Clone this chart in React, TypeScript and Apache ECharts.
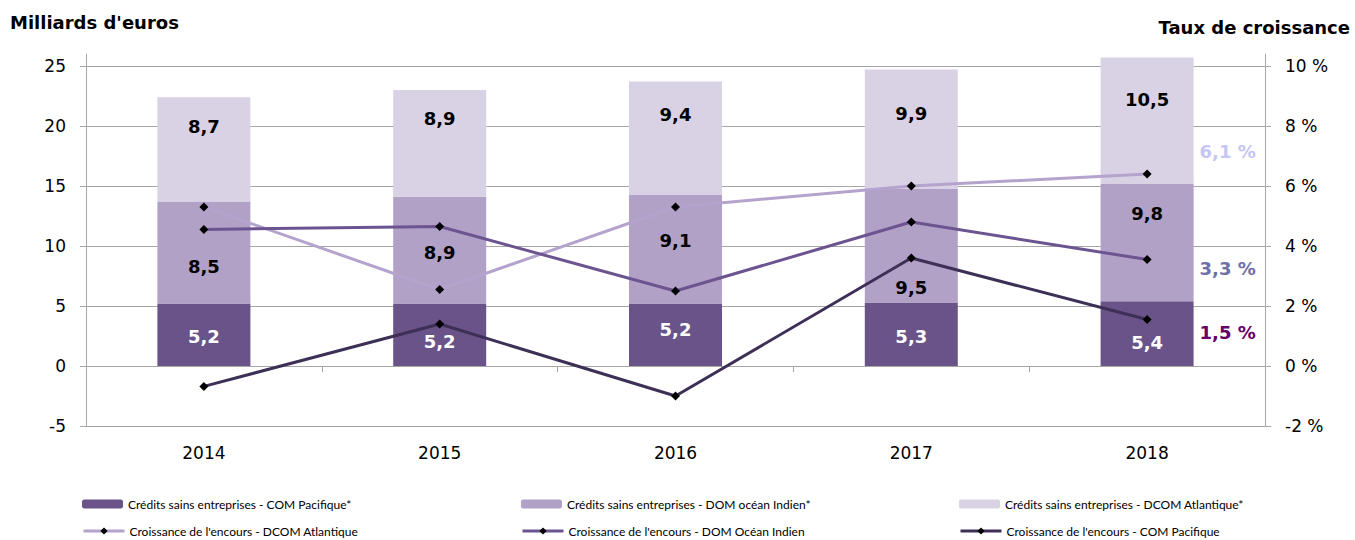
import React, { useEffect, useRef } from "react";
import * as echarts from "echarts";

const years = ["2014", "2015", "2016", "2017", "2018"];

const barPacifique = [5.2, 5.2, 5.2, 5.3, 5.4];
const barIndien = [8.5, 8.9, 9.1, 9.5, 9.8];
const barAtlantique = [8.7, 8.9, 9.4, 9.9, 10.5];

const growthAtlantique = [5.3, 2.55, 5.3, 6.0, 6.4];
const growthIndien = [4.55, 4.65, 2.5, 4.8, 3.55];
const growthPacifique = [-0.68, 1.4, -1.0, 3.6, 1.55];

const endLabels = ["6,1 %", "3,3 %", "1,5 %"];

const names = [
  "Crédits sains entreprises - COM Pacifique*",
  "Crédits sains entreprises - DOM océan Indien*",
  "Crédits sains entreprises - DCOM Atlantique*",
  "Croissance de l'encours - DCOM Atlantique",
  "Croissance de l'encours - DOM Océan Indien",
  "Croissance de l'encours - COM Pacifique",
];

// label vertical nudges (px) per bar segment
const dyPacifique = [2, 7, -5, 2, 9];
const dyIndien = [14, 2, -9, 42, -29];
const dyAtlantique = [-23, -25, -24, -16, -21];

const FONT = "'DejaVu Sans', sans-serif";
const LEGEND_FONT = "Lato, 'Liberation Sans', sans-serif";

const fmt = (v: number) => String(v).replace(".", ",");

export default function App() {
  const ref = useRef<HTMLDivElement>(null);
  useEffect(() => {
    if (!ref.current) return;
    const chart = echarts.init(ref.current, undefined, { renderer: "svg" });

    const barSeries = (
      name: string,
      values: number[],
      color: string,
      labelColor: string,
      dys: number[]
    ) => ({
      type: "bar",
      name,
      stack: "credits",
      barWidth: 93,
      itemStyle: { color },
      data: values.map((v, i) => ({
        value: v,
        label: {
          show: true,
          position: "inside",
          offset: [0, dys[i]],
          formatter: fmt(v),
          color: labelColor,
          fontFamily: FONT,
          fontWeight: "bold",
          fontSize: 18,
        },
      })),
    });

    const lineSeries = (
      name: string,
      values: number[],
      color: string,
      endLabel: string,
      endColor: string,
      endDy: number
    ) => ({
      type: "line",
      name,
      yAxisIndex: 1,
      symbol: "diamond",
      symbolSize: 9,
      lineStyle: { color, width: 3 },
      itemStyle: { color: "#000" },
      z: 5,
      data: values.map((v, i) =>
        i === values.length - 1
          ? {
              value: v,
              label: {
                show: true,
                position: "right",
                offset: [43, endDy],
                formatter: endLabel,
                color: endColor,
                fontFamily: FONT,
                fontWeight: "bold",
                fontSize: 18,
              },
            }
          : v
      ),
    });

    const legendPos = [
      [82, 498],
      [521, 498],
      [959, 498],
      [82, 525],
      [521, 525],
      [959, 525],
    ];

    const option: any = {
      animation: false,
      title: [
        {
          text: "Milliards d'euros",
          left: 10,
          top: 13,
          padding: 0,
          textStyle: { fontFamily: FONT, fontWeight: "bold", fontSize: 18, color: "#000" },
        },
        {
          text: "Taux de croissance",
          right: 5,
          top: 18,
          padding: 0,
          textStyle: { fontFamily: FONT, fontWeight: "bold", fontSize: 18, color: "#000" },
        },
      ],
      legend: names.map((n, i) => ({
        data: [n],
        left: legendPos[i][0],
        top: legendPos[i][1],
        padding: 0,
        itemWidth: 41,
        itemHeight: 9,
        selectedMode: false,
        lineStyle: { width: 3 },
        textStyle: { fontFamily: LEGEND_FONT, fontSize: 12, color: "#000" },
      })),
      grid: { left: 86, right: 90, top: 54, bottom: 114 },
      xAxis: [
        {
          type: "category",
          data: years,
          position: "bottom",
          axisLine: { onZero: true, lineStyle: { color: "#a6a6a6", width: 1 } },
          axisTick: { show: true, length: 6, lineStyle: { color: "#a6a6a6" } },
          axisLabel: { show: false },
        },
        {
          type: "category",
          data: years,
          position: "bottom",
          axisLine: { show: false, onZero: false },
          axisTick: { show: false },
          axisLabel: { margin: 18, fontFamily: FONT, fontSize: 17, color: "#000" },
        },
      ],
      yAxis: [
        {
          type: "value",
          min: -5,
          max: 26,
          interval: 5,
          axisLine: { show: true, lineStyle: { color: "#a6a6a6" } },
          axisTick: { show: true, length: 6, lineStyle: { color: "#a6a6a6" } },
          axisLabel: {
            margin: 20,
            showMaxLabel: false,
            fontFamily: FONT,
            fontSize: 17,
            color: "#000",
          },
          splitLine: { show: true, showMaxLine: false, lineStyle: { color: "#a6a6a6", width: 1 } },
        },
        {
          type: "value",
          min: -2,
          max: 10.4,
          interval: 2,
          position: "right",
          axisLine: { show: true, lineStyle: { color: "#a6a6a6" } },
          axisTick: { show: true, length: 6, lineStyle: { color: "#a6a6a6" } },
          axisLabel: {
            margin: 20,
            showMaxLabel: false,
            formatter: (v: number) => `${v} %`,
            fontFamily: FONT,
            fontSize: 17,
            color: "#000",
          },
          splitLine: { show: false },
        },
      ],
      series: [
        barSeries(names[0], barPacifique, "#6a5389", "#fff", dyPacifique),
        barSeries(names[1], barIndien, "#b1a1c7", "#000", dyIndien),
        barSeries(names[2], barAtlantique, "#d9d1e4", "#000", dyAtlantique),
        lineSeries(names[3], growthAtlantique, "#b4a3cd", endLabels[0], "#c6c6f4", -23),
        lineSeries(names[4], growthIndien, "#6c5491", endLabels[1], "#7070a8", 9),
        lineSeries(names[5], growthPacifique, "#3e2f56", endLabels[2], "#660066", 13),
      ],
    };

    chart.setOption(option);
    return () => chart.dispose();
  }, []);

  return (
    <div
      ref={ref}
      style={{ position: "fixed", left: 0, top: 0, width: 1355, height: 540, background: "#fff" }}
    />
  );
}
